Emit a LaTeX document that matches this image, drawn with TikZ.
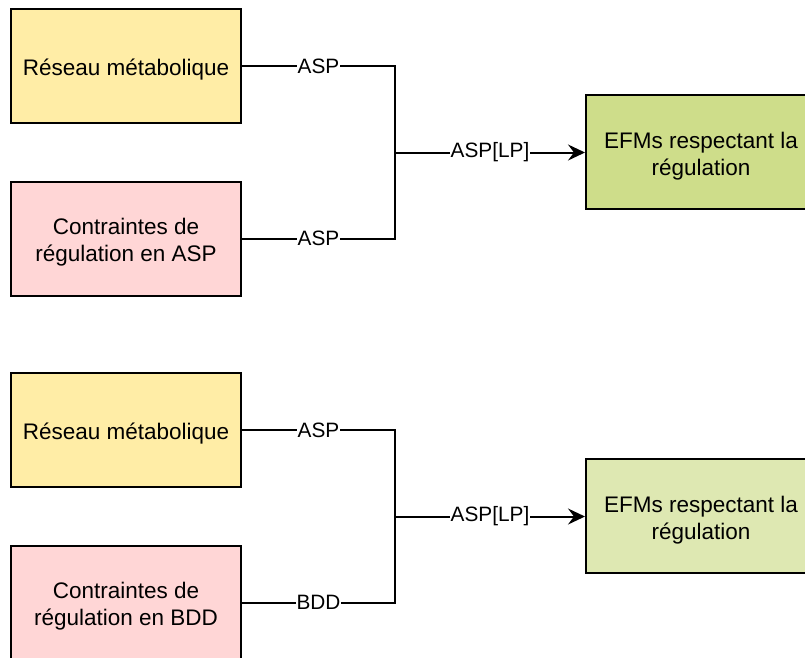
\documentclass[tikz,border=0pt]{standalone}
\usepackage{fontspec}
\setmainfont{Liberation Sans}
\usetikzlibrary{arrows.meta}
\definecolor{yel}{HTML}{FFEDA6}
\definecolor{pnk}{HTML}{FFD6D6}
\definecolor{grnA}{HTML}{CEDD8A}
\definecolor{grnB}{HTML}{DEE8B2}
\tikzset{
  box/.style={draw=black, line width=2pt, rectangle, minimum width=230pt, minimum height=114pt, inner sep=0pt},
  txt/.style={align=center, font=\fontsize{22.5}{27}\selectfont, inner sep=0pt, yshift=-4pt},
  lbl/.style={fill=white, inner sep=1pt, font=\fontsize{20.8}{25}\selectfont},
  conn/.style={draw=black, line width=2pt},
  arr/.style={conn, -{Stealth[length=17pt, width=16pt, inset=6pt]}}
}
\begin{document}
\begin{tikzpicture}[x=1pt, y=-1pt]
\useasboundingbox (0,0) rectangle (805,657);
\clip (0,0) rectangle (805,657);
% top group
\node[box, fill=yel, label={[txt]center:Réseau métabolique}] (b1) at (126,66) {};
\node[box, fill=pnk, label={[txt]center:Contraintes de\\régulation en ASP}] (b2) at (126,238.5) {};
\node[box, fill=grnA, label={[txt]center:EFMs respectant la\\régulation}] (r1) at (701,152) {};
\coordinate (j1) at (395,152.5);
\draw[conn] (b1.east) -- node[lbl]{ASP} (b1.east -| j1) -- (j1);
\draw[conn] (b2.east) -- node[lbl]{ASP} (b2.east -| j1) -- (j1);
\draw[arr] (j1) -- node[lbl]{ASP[LP]} (r1.west |- j1);
% bottom group
\node[box, fill=yel, label={[txt]center:Réseau métabolique}] (b3) at (126,430) {};
\node[box, fill=pnk, label={[txt]center:Contraintes de\\régulation en BDD}] (b4) at (126,602.5) {};
\node[box, fill=grnB, label={[txt]center:EFMs respectant la\\régulation}] (r2) at (701,516) {};
\coordinate (j2) at (395,516.5);
\draw[conn] (b3.east) -- node[lbl]{ASP} (b3.east -| j2) -- (j2);
\draw[conn] (b4.east) -- node[lbl]{BDD} (b4.east -| j2) -- (j2);
\draw[arr] (j2) -- node[lbl]{ASP[LP]} (r2.west |- j2);
\end{tikzpicture}
\end{document}
